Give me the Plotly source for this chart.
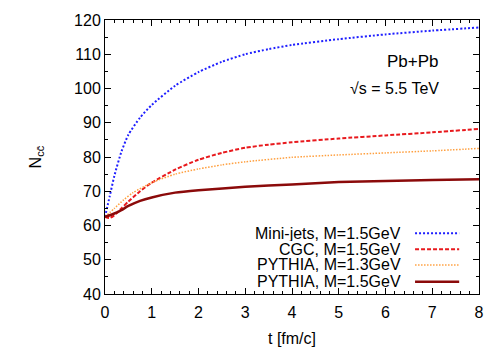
import plotly.graph_objects as go

t_blue = [0, 0.1, 0.2, 0.35, 0.5, 0.75, 1, 1.5, 2, 2.5, 3, 3.5, 4, 5, 6, 7, 8]
n_blue = [62.5, 68.5, 74.5, 81.5, 86.5, 91.5, 95.2, 100.8, 104.8, 107.8, 110.0, 111.5, 112.7, 114.4, 115.8, 116.9, 117.8]

t_red = [0, 0.1, 0.2, 0.35, 0.5, 0.75, 1, 1.5, 2, 2.5, 3, 3.5, 4, 5, 6, 7, 8]
n_red = [62.5, 62.2, 63.0, 65.0, 67.0, 70.0, 72.5, 76.3, 79.2, 81.2, 82.7, 83.6, 84.3, 85.4, 86.3, 87.2, 88.2]

t_orange = [0, 0.2, 0.4, 0.6, 1, 1.5, 2, 2.5, 3, 4, 5, 6, 7, 8]
n_orange = [62.5, 65.0, 67.5, 69.6, 72.5, 75.0, 76.5, 77.7, 78.6, 79.9, 80.6, 81.2, 81.8, 82.5]

t_dark = [0, 0.2, 0.35, 0.5, 0.75, 1, 1.5, 2, 3, 4, 5, 6, 7, 8]
n_dark = [62.5, 63.5, 64.5, 65.7, 67.2, 68.2, 69.6, 70.3, 71.3, 72.0, 72.7, 73.0, 73.3, 73.5]

names = ['Mini-jets, M=1.5GeV', 'CGC, M=1.5GeV', 'PYTHIA, M=1.3GeV', 'PYTHIA, M=1.5GeV']
colors = ['#1f1fff', '#e8191d', '#ffa040', '#8b0a0a']
dashes = ['2px,2px', '4px,2px', '1.5px,1.5px', 'solid']
widths = [2, 2, 1.5, 2.5]

FS = 16

fig = go.Figure()
series = [(t_blue, n_blue), (t_red, n_red), (t_orange, n_orange), (t_dark, n_dark)]
for (t, n), name, c, d, w in zip(series, names, colors, dashes, widths):
    fig.add_trace(go.Scatter(x=t, y=n, mode='lines', name=name, showlegend=False,
                             line=dict(color=c, dash=d, width=w, shape='spline', smoothing=0.6)))

# gnuplot-style legend: text right-aligned, sample to the right
rows = [0.2215, 0.163, 0.106, 0.045]
for name, c, d, w, yy in zip(names, colors, dashes, widths, rows):
    fig.add_annotation(x=0.797, y=yy, xref='paper', yref='paper', text=name, showarrow=False,
                       xanchor='right', yanchor='middle', height=15, valign='middle',
                       font=dict(size=FS, color='black'))
    fig.add_shape(type='line', xref='paper', yref='paper', x0=0.829, x1=0.947, y0=yy, y1=yy,
                  line=dict(color=c, dash=d, width=w))

fig.add_annotation(x=0.898, y=0.848, xref='paper', yref='paper', text='Pb+Pb', showarrow=False,
                   xanchor='right', yanchor='middle', font=dict(size=17, color='black'))
fig.add_annotation(x=0.898, y=0.751, xref='paper', yref='paper', text='√s = 5.5 TeV', showarrow=False,
                   xanchor='right', yanchor='middle', font=dict(size=FS, color='black'))

axis_common = dict(showgrid=False, zeroline=False, showline=True, linecolor='black', linewidth=1,
                   mirror='allticks', ticks='inside', ticklen=6, tickcolor='black', automargin=False,
                   tickfont=dict(size=FS, color='black'))
fig.update_xaxes(range=[0, 8], dtick=1, ticklabelstandoff=4,
                 title=dict(text='t [fm/c]', font=dict(size=FS, color='black'), standoff=12),
                 minor=dict(dtick=0.2, ticks='inside', ticklen=3, tickcolor='black'), **axis_common)
fig.update_yaxes(range=[40, 120], dtick=10,
                 title=dict(text='N<sub>cc̄</sub>', font=dict(size=FS, color='black'), standoff=28),
                 minor=dict(dtick=5, ticks='inside', ticklen=3, tickcolor='black'), **axis_common)

# the page puts the figure 8px in from the window corner, so margins are shifted to compensate
fig.update_layout(width=498, height=349, margin=dict(l=97, r=27, t=12, b=63),
                  plot_bgcolor='white', paper_bgcolor='white',
                  font=dict(family='Liberation Sans, Arial, sans-serif', color='black'))

fig.write_html("out.html")
